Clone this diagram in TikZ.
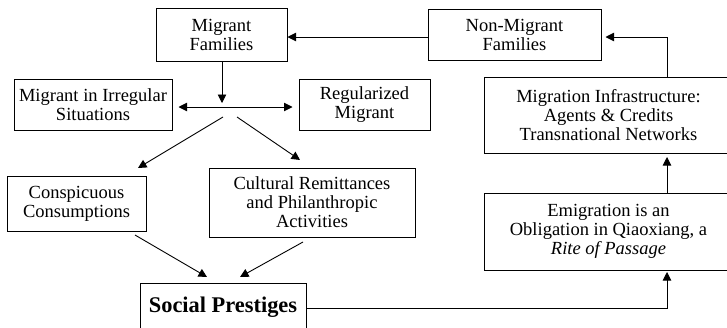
\documentclass[tikz,border=0pt]{standalone}
\usepackage{fontspec}
\setmainfont{Liberation Serif}
\usetikzlibrary{arrows.meta,calc}
\begin{document}
\begin{tikzpicture}[x=1pt,y=-1pt,
  box/.style={draw,line width=1pt,inner sep=0pt,align=center,
    font=\fontsize{18.5}{19}\selectfont},
  flow/.style={line width=0.9pt,-{Triangle[length=8.5pt,width=8.5pt]}},
  both/.style={line width=0.9pt,{Triangle[length=8.5pt,width=8.5pt]}-{Triangle[length=8.5pt,width=8.5pt]}}]
\useasboundingbox (0,0) rectangle (727,327);
\clip (0,0) rectangle (727,327);

% boxes
\node[box,minimum width=131pt,minimum height=53pt] (mf) at (221.5,34.5) {Migrant\\Families};
\node[box,minimum width=173pt,minimum height=51pt] (nmf) at (514.5,34.5) {Non-Migrant\\Families};
\node[box,minimum width=158pt,minimum height=51pt] (irr) at (93,104.5) {Migrant in Irregular\\Situations};
\node[box,minimum width=131pt,minimum height=51pt] (reg) at (364.5,104.5) {Regularized\\Migrant};
\node[box,minimum width=249pt,minimum height=76pt] (inf) at (608.5,115) {Migration Infrastructure:\\Agents \& Credits\\Transnational Networks};
\node[box,minimum width=139pt,minimum height=55pt] (cc) at (76.5,203.5) {Conspicuous\\Consumptions};
\node[box,minimum width=206pt,minimum height=69pt] (cr) at (312,202.5) {Cultural Remittances\\and Philanthropic\\Activities};
\node[box,minimum width=249pt,minimum height=77pt] (em) at (608.5,231.5) {Emigration is an\\Obligation in Qiaoxiang, a\\\textit{Rite of Passage}};
\node[box,minimum width=166pt,minimum height=48pt,font=\fontsize{22.4}{24}\selectfont\bfseries] (sp) at (223,307) {Social Prestiges};

% junction points
\coordinate (hub) at (222,103);
\coordinate (forkl) at (223,117);
\coordinate (forkr) at (237,117);
\coordinate (ccin) at (138,168);
\coordinate (crin) at (300,160);
\coordinate (ccout) at (135,235);
\coordinate (crout) at (303,242);
\coordinate (spinl) at (207,277);
\coordinate (spinr) at (240,277);
\coordinate (spout) at (306,308);
\coordinate (corner) at (667,308);
\coordinate (emin) at (667,272);
\coordinate (emout) at (667,193);
\coordinate (infin) at (667,157);
\coordinate (infout) at (667,77);
\coordinate (top) at (667,37);

% connectors
\draw[flow] ($(nmf.west)+(0,2.5)$) -- ($(mf.east)+(0,2.5)$);
\draw[flow] (mf.south -| hub) -- (hub);
\draw[both,shorten <=6pt,shorten >=6pt] ($(irr.east)+(0,2.5)$) -- ($(reg.west)+(0,2.5)$);
\draw[flow] (forkl) -- (ccin);
\draw[flow] (forkr) -- (crin);
\draw[flow] (ccout) -- (spinl);
\draw[flow] (crout) -- (spinr);
\draw[flow] (spout) -- (corner) -- (emin);
\draw[flow] (emout) -- (infin);
\draw[flow,shorten >=4pt] (infout) -- (top) -- ($(nmf.east)+(0,2.5)$);
\end{tikzpicture}
\end{document}
